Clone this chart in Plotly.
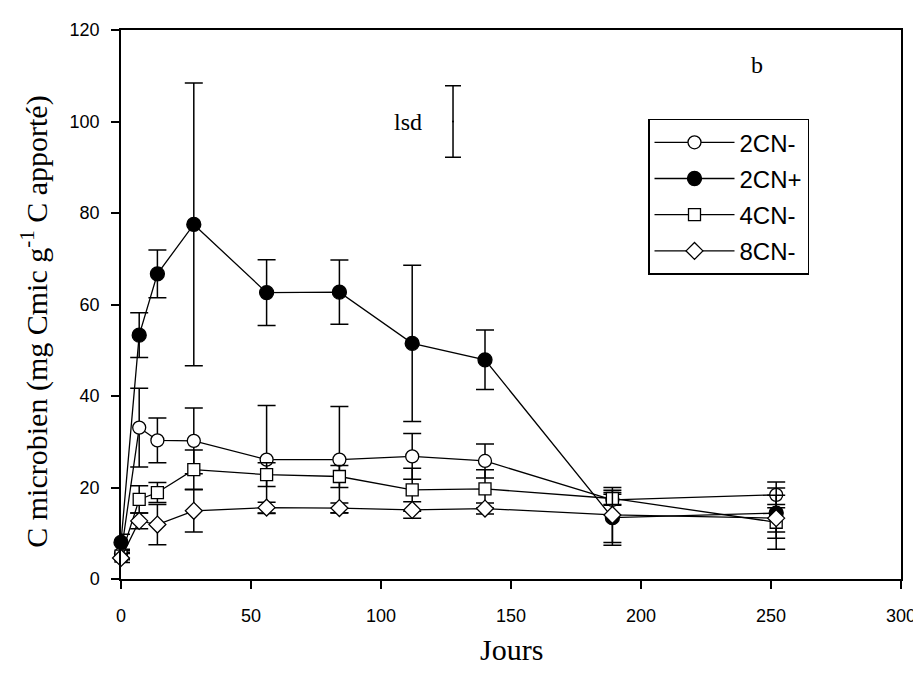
import plotly.graph_objects as go

days = [0, 7, 14, 28, 56, 84, 112, 140, 189, 252]

cn2_minus = [5.5, 33.1, 30.3, 30.2, 26.1, 26.1, 26.8, 25.8, 17.3, 18.4]
cn2_minus_err = [1.0, 8.6, 4.9, 7.2, 11.8, 11.6, 5.0, 3.7, 1.2, 2.8]

cn2_plus = [8.0, 53.3, 66.7, 77.5, 62.6, 62.7, 51.5, 47.9, 13.4, 14.4]
cn2_plus_err = [1.8, 4.9, 5.2, 30.9, 7.2, 7.0, 17.1, 6.5, 6.0, 5.5]

cn4_minus = [5.0, 17.4, 18.9, 23.9, 22.8, 22.4, 19.5, 19.7, 17.6, 12.4]
cn4_minus_err = [0.8, 3.0, 2.2, 4.3, 2.6, 2.4, 4.7, 4.2, 1.3, 5.9]

cn8_minus = [4.6, 12.7, 11.9, 14.9, 15.6, 15.5, 15.1, 15.4, 14.0, 13.3]
cn8_minus_err = [1.0, 1.7, 4.4, 4.6, 1.2, 1.1, 1.8, 1.2, 6.0, 3.0]

lsd_x = [127.7]
lsd_y = [100.0]
lsd_err = [7.8]

series = [
    ("2CN-", cn2_minus, cn2_minus_err, "circle", "white", 13),
    ("2CN+", cn2_plus, cn2_plus_err, "circle", "black", 14),
    ("4CN-", cn4_minus, cn4_minus_err, "square", "white", 12),
    ("8CN-", cn8_minus, cn8_minus_err, "diamond", "white", 13),
]

fig = go.Figure()
for name, vals, errs, sym, fill, size in series:
    fig.add_trace(go.Scatter(
        x=days, y=vals, name=name, mode="lines+markers", legendgroup=name,
        line=dict(color="black", width=1.3),
        marker=dict(symbol=sym, size=size, color=fill,
                    line=dict(color="black", width=1.3)),
        error_y=dict(type="data", array=errs, visible=True,
                     color="black", thickness=1.5, width=9),
        cliponaxis=False,
    ))

fig.add_trace(go.Scatter(
    x=lsd_x, y=lsd_y, mode="markers", showlegend=False,
    marker=dict(size=2, color="black"),
    error_y=dict(type="data", array=lsd_err, visible=True,
                 color="black", thickness=1.5, width=8),
))

serif = "Liberation Serif, Times New Roman, serif"
sans = "Liberation Sans, Arial, sans-serif"

axis_common = dict(ticks="outside", ticklen=8, tickwidth=1.5, tickcolor="black",
                   showline=True, linecolor="black", linewidth=1.5, mirror=True,
                   showgrid=False, zeroline=False,
                   tickfont=dict(family=sans, size=18))

fig.update_layout(
    width=921, height=675,
    margin=dict(l=113, r=28, t=14, b=104),
    paper_bgcolor="white", plot_bgcolor="white",
    font=dict(family=sans, color="black", size=18),
    xaxis=dict(range=[0, 300], tickvals=[0, 50, 100, 150, 200, 250, 300],
               ticklabelstandoff=12, **axis_common),
    yaxis=dict(range=[0, 120], tickvals=[0, 20, 40, 60, 80, 100, 120],
               ticklabelstandoff=8, **axis_common),
    legend=dict(x=(648 - 121) / 780, y=(579 - 112) / 557,
                xanchor="left", yanchor="top",
                bordercolor="black", borderwidth=1.5, bgcolor="white",
                font=dict(family=sans, size=24), itemwidth=80,
                tracegroupgap=2),
    showlegend=True,
)

fig.add_annotation(text="C microbien (mg Cmic g<sup>-1</sup> C apporté)",
                   xref="paper", yref="paper", x=(35 - 121) / 780, y=(579 - 318) / 557,
                   textangle=-90, showarrow=False, xanchor="center", yanchor="middle",
                   font=dict(family=serif, size=30))
fig.add_annotation(text="Jours", xref="paper", yref="paper",
                   x=(511 - 121) / 780, y=(579 - 651) / 557,
                   showarrow=False, xanchor="center", yanchor="middle",
                   font=dict(family=serif, size=30))
fig.add_annotation(text="b", x=244.6, y=112.3, showarrow=False,
                   font=dict(family=serif, size=24))
fig.add_annotation(text="lsd", x=110.4, y=100, showarrow=False,
                   font=dict(family=serif, size=24))

fig.write_html("out.html")
